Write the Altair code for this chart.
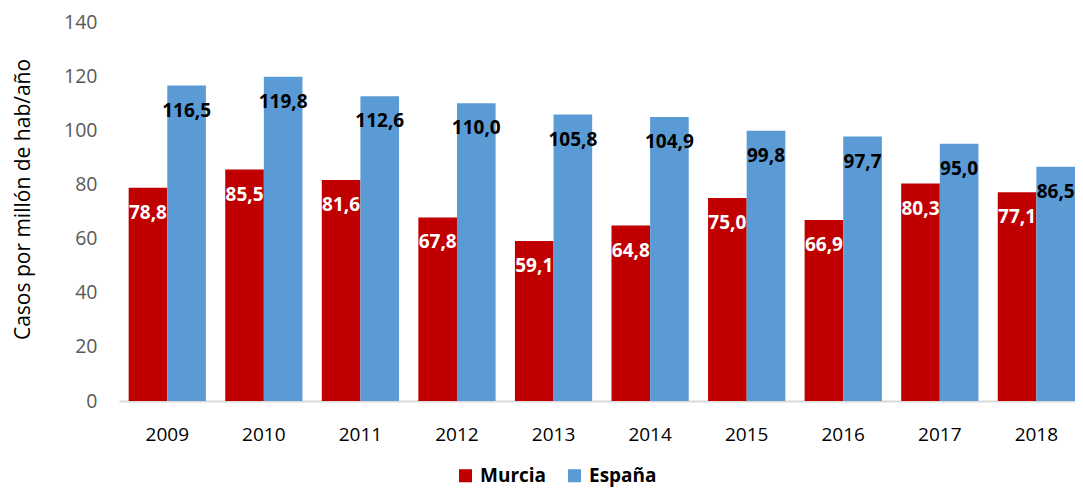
import altair as alt
import pandas as pd

years = ["2009", "2010", "2011", "2012", "2013", "2014", "2015", "2016", "2017", "2018"]
murcia = [78.8, 85.5, 81.6, 67.8, 59.1, 64.8, 75.0, 66.9, 80.3, 77.1]
espana = [116.5, 119.8, 112.6, 110.0, 105.8, 104.9, 99.8, 97.7, 95.0, 86.5]
series = ["Murcia", "España"]
colors = ["#C00000", "#5B9BD5"]

rows = []
for i, y in enumerate(years):
    rows.append({"year": y, "series": "Murcia", "value": murcia[i]})
    rows.append({"year": y, "series": "España", "value": espana[i]})
df = pd.DataFrame(rows)

FONT = "Open Sans"

x = alt.X(
    "year:N",
    sort=years,
    scale=alt.Scale(paddingInner=0.2, paddingOuter=0.05, align=1),
    axis=alt.Axis(
        title=None, labelAngle=0, ticks=False, domainColor="#D9D9D9", domainWidth=2,
        labelFontSize=19, labelColor="#000000", labelPadding=24, labelFont=FONT,
    ),
)
xoff = alt.XOffset("series:N", sort=series, scale=alt.Scale(paddingInner=0, paddingOuter=0))
y = alt.Y(
    "value:Q",
    scale=alt.Scale(domain=[0, 140], nice=False),
    axis=alt.Axis(
        values=[0, 20, 40, 60, 80, 100, 120, 140], grid=False, domain=False, ticks=False,
        labelFontSize=19.5, labelColor="#595959", labelPadding=22, labelFont=FONT,
        title="Casos por millón de hab/año", titleFontSize=21, titleFontWeight="normal",
        titleColor="#000000", titleFont=FONT, titleX=-96, titleY=177, titleBaseline="middle",
        titleAlign="center", titleAngle=270,
    ),
)

base = alt.Chart(df)

bars = base.mark_bar().encode(
    x=x, xOffset=xoff, y=y,
    color=alt.Color(
        "series:N", sort=series,
        scale=alt.Scale(domain=series, range=colors),
        legend=alt.Legend(
            title=None, orient="none", legendX=337, legendY=444, direction="horizontal",
            symbolType="square", symbolSize=170, symbolStrokeWidth=0, labelFontSize=19,
            labelFontWeight="bold", labelColor="#000000", labelFont=FONT,
            columnPadding=18, labelOffset=5,
        ),
    ),
)

labels = base.mark_text(dy=25, baseline="middle", align="center", fontSize=19,
                        fontWeight="bold", font=FONT).encode(
    x=x, xOffset=xoff, y=y,
    text=alt.Text("label:N"),
    color=alt.condition(alt.datum.series == "Murcia", alt.value("#FFFFFF"), alt.value("#000000")),
).transform_calculate(label="replace(format(datum.value, '.1f'), '.', ',')")

chart = alt.layer(bars, labels).properties(
    width=956, height=379,
    autosize=alt.AutoSizeParams(type="none"),
    padding={"left": 111, "top": 14, "right": 0, "bottom": 88},
).configure_view(stroke=None)

chart.save("out.html", embed_options={"renderer": "svg", "actions": False})
